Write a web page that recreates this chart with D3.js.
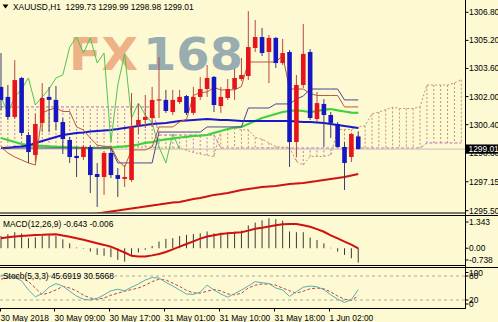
<!DOCTYPE html>
<html><head><meta charset="utf-8">
<script src="https://cdn.jsdelivr.net/npm/d3@7"></script>
<style>html,body{margin:0;padding:0;background:#fcf9d3;} svg{display:block;}</style>
</head><body><svg id="c" width="498" height="322"></svg>
<script>
// ---------- DATA ----------
const title = "XAUUSD,H1  1299.73 1299.99 1298.98 1299.01";
const macdTitle = "MACD(12,26,9) -0.643 -0.006";
const stochTitle = "Stoch(5,3,3) 45.6919 30.5668";
const bidPrice = 1299.01;
const priceTicks = [1306.80,1305.20,1303.60,1302.00,1300.40,1298.80,1297.15,1295.50];
const macdTicks = [1.343, 0.00, -0.738];
const macdTickLabels = ["1.343","0.00","-0.738"];
const stochTicks = [100,80,20,0];
const xLabelBars = [0,8,16,24,32,40,48];
const xLabels = ["30 May 2018","30 May 09:00","30 May 17:00","31 May 01:00","31 May 10:00","31 May 18:00","1 Jun 02:00"];

const opens  = [1302.55,1301.98,1300.84,1303.06,1299.81,1298.67,1300.50,1301.98,1301.81,1300.55,1299.53,1298.62,1298.56,1299.13,1297.59,1297.42,1298.79,1297.53,1297.31,1297.25,1300.38,1300.67,1300.78,1301.78,1301.81,1301.12,1301.69,1302.03,1301.07,1301.98,1302.43,1303.12,1301.46,1301.92,1302.43,1303.00,1303.17,1304.77,1305.39,1304.54,1305.34,1303.91,1304.54,1299.41,1302.66,1304.54,1300.72,1301.58,1300.95,1300.44,1299.13,1298.56,1299.73];
const highs  = [1304.48,1302.66,1304.08,1303.12,1299.98,1301.01,1302.77,1302.55,1302.60,1300.78,1299.70,1299.13,1299.24,1299.24,1298.22,1298.90,1299.07,1297.93,1298.10,1302.20,1301.58,1302.09,1302.55,1304.25,1302.38,1302.38,1302.38,1302.09,1302.55,1303.12,1303.80,1303.17,1302.55,1303.00,1303.57,1304.20,1306.87,1306.36,1305.91,1305.51,1305.39,1305.28,1304.65,1303.23,1306.13,1304.71,1302.26,1301.86,1301.12,1300.55,1299.41,1299.93,1299.99];
const lows   = [1301.24,1300.67,1300.72,1299.76,1298.22,1298.27,1299.98,1299.98,1300.10,1298.73,1298.22,1297.42,1298.39,1296.51,1295.71,1296.40,1297.36,1296.28,1296.85,1297.14,1299.87,1300.21,1300.27,1300.78,1301.07,1300.95,1301.58,1300.95,1300.95,1301.81,1301.98,1301.12,1301.07,1301.81,1301.81,1302.89,1302.94,1304.54,1304.31,1302.77,1303.63,1303.80,1297.99,1298.56,1302.49,1300.67,1300.55,1299.13,1299.64,1299.10,1296.68,1298.27,1298.98];
const closes = [1301.81,1300.84,1302.94,1299.93,1298.84,1300.44,1301.92,1301.81,1300.55,1299.58,1298.56,1298.50,1299.13,1297.53,1297.42,1298.79,1297.53,1297.31,1297.42,1300.27,1300.67,1300.84,1301.81,1301.84,1301.18,1301.81,1301.98,1301.07,1301.98,1302.43,1303.06,1301.52,1301.98,1302.43,1303.06,1303.23,1304.82,1305.39,1304.48,1305.34,1303.91,1304.48,1299.41,1302.66,1304.43,1300.78,1301.63,1300.95,1300.50,1299.13,1298.22,1299.87,1299.01];

const tenkan = [1299.13,1298.79,1298.56,1298.39,1298.22,1298.10,1301.07,1301.24,1301.35,1301.15,1301.15,1300.27,1300.10,1299.64,1299.24,1299.16,1299.16,1298.39,1297.99,1298.96,1298.96,1298.96,1299.13,1300.27,1300.27,1300.27,1300.55,1300.70,1302.06,1302.23,1302.26,1302.52,1302.38,1302.38,1302.38,1302.57,1303.97,1303.97,1303.97,1303.97,1303.97,1304.34,1302.43,1302.43,1302.43,1302.18,1302.06,1302.06,1302.06,1302.06,1301.41,1301.41,1301.41];
const kijun = [1299.07,1299.07,1299.07,1299.07,1299.07,1299.07,1299.07,1299.07,1299.07,1299.07,1299.07,1299.07,1299.07,1299.07,1299.07,1299.07,1299.07,1298.22,1298.22,1298.22,1298.22,1298.22,1298.22,1299.98,1299.98,1299.98,1299.98,1299.98,1299.98,1299.98,1300.27,1300.27,1300.27,1300.27,1300.27,1300.27,1301.35,1301.35,1301.35,1301.35,1301.58,1301.58,1301.58,1301.86,1302.03,1302.43,1302.43,1302.43,1302.43,1302.43,1301.81,1301.81,1301.81];
const senkouA = [1299.13,1299.13,1299.13,1299.13,1299.13,1299.13,1299.13,1299.13,1299.13,1299.13,1299.13,1299.13,1299.13,1299.13,1299.13,1299.13,1299.13,1299.13,1299.13,1299.13,1299.13,1299.13,1299.13,1299.07,1299.07,1299.07,1299.10,1298.93,1298.82,1298.73,1298.65,1298.59,1300.07,1300.15,1300.21,1300.11,1300.11,1299.67,1299.58,1299.36,1299.16,1299.11,1299.11,1298.30,1298.10,1298.59,1298.59,1298.59,1298.67,1300.13,1300.13,1300.13,1300.27,1300.34,1301.02,1301.11,1301.26,1301.39,1301.32,1301.32,1301.32,1301.42,1302.66,1302.66,1302.66,1302.66,1302.77,1302.96];
const senkouB = [1301.41,1301.41,1301.41,1301.41,1301.41,1301.41,1301.41,1301.41,1301.41,1301.41,1301.41,1301.41,1301.41,1301.41,1301.41,1301.41,1301.41,1301.41,1301.41,1301.41,1301.41,1301.41,1301.41,1299.81,1299.81,1299.81,1299.81,1299.81,1299.81,1299.81,1299.81,1299.81,1299.07,1299.07,1299.07,1299.07,1299.07,1299.07,1299.07,1299.07,1299.07,1299.07,1299.07,1299.07,1299.07,1299.07,1299.07,1299.07,1299.07,1299.07,1299.07,1299.07,1299.07,1299.07,1299.07,1299.07,1299.07,1299.07,1299.07,1299.07,1299.07,1299.07,1299.36,1299.36,1299.36,1299.36,1299.36,1299.36];

const maBlue = [1299.07,1299.07,1299.13,1299.16,1299.21,1299.36,1299.47,1299.58,1299.70,1299.81,1299.87,1299.93,1299.95,1300.01,1300.04,1300.07,1300.10,1300.15,1300.21,1300.27,1300.33,1300.38,1300.44,1300.47,1300.50,1300.55,1300.61,1300.64,1300.67,1300.70,1300.72,1300.70,1300.67,1300.67,1300.64,1300.61,1300.61,1300.61,1300.61,1300.61,1300.61,1300.61,1300.61,1300.58,1300.55,1300.55,1300.53,1300.50,1300.44,1300.38,1300.33,1300.27,1300.21];
const maGreen = [1299.64,1299.53,1299.41,1299.30,1299.24,1299.21,1299.19,1299.16,1299.13,1299.13,1299.10,1299.10,1299.07,1299.07,1299.07,1299.07,1299.10,1299.13,1299.16,1299.21,1299.27,1299.36,1299.41,1299.50,1299.56,1299.61,1299.67,1299.70,1299.76,1299.78,1299.81,1299.93,1300.04,1300.15,1300.24,1300.27,1300.44,1300.61,1300.78,1300.89,1301.01,1301.12,1301.18,1301.21,1301.18,1301.12,1301.18,1301.26,1301.29,1301.21,1301.15,1301.09,1301.07];
const maRed = [null,null,null,null,null,null,null,null,null,null,null,null,null,1295.29,1295.34,1295.40,1295.46,1295.51,1295.57,1295.63,1295.68,1295.74,1295.80,1295.85,1295.91,1295.97,1296.00,1296.08,1296.17,1296.22,1296.31,1296.40,1296.45,1296.51,1296.59,1296.68,1296.74,1296.79,1296.85,1296.88,1296.91,1296.97,1297.02,1297.05,1297.08,1297.14,1297.19,1297.25,1297.31,1297.36,1297.42,1297.51,1297.59];

const macdHist = [0.55,0.63,0.72,0.67,0.45,0.49,0.55,0.60,0.55,0.40,0.22,0.03,-0.02,-0.15,-0.30,-0.34,-0.40,-0.52,-0.60,-0.30,-0.19,-0.07,0.10,0.30,0.42,0.45,0.55,0.60,0.64,0.67,0.75,0.67,0.70,0.72,0.75,0.79,1.02,1.15,1.25,1.343,1.30,1.24,0.75,0.72,0.72,0.48,0.37,0.22,0.02,-0.15,-0.30,-0.45,-0.643];
const macdSignal = [0.45,0.49,0.53,0.55,0.57,0.59,0.60,0.62,0.63,0.57,0.52,0.45,0.38,0.30,0.22,0.15,0.07,-0.06,-0.19,-0.34,-0.37,-0.37,-0.32,-0.26,-0.17,-0.05,0.07,0.19,0.31,0.43,0.53,0.58,0.64,0.67,0.69,0.72,0.79,0.87,0.92,0.98,1.03,1.08,1.09,1.09,1.03,0.96,0.86,0.74,0.58,0.44,0.30,0.16,-0.006];

const stochMain = [82,81,76,68,45,28,36,52,61,55,42,30,22,20,24,33,43,47,43,52,60,70,76,75,64,55,45,35,34,40,57,45,35,27,36,45,55,66,63,61,50,45,29,41,52,55,53,46,33,22,14,21,45.69];
const stochSignal = [72,76,80,75,66,50,33,38,45,54,50,43,32,25,22,25,32,37,42,46,50,57,66,72,70,62,54,44,38,37,42,46,43,35,33,37,50,57,60,60,57,50,43,37,42,48,50,48,40,30,22,19,30.57];

// ---------- LAYOUT ----------
const W = 498, H = 322, AX = 465.5;
const BG = "#fcf9d3";
const FONT = "'Liberation Sans', Arial, sans-serif";
const main = {top: 0, bottom: 212.5};
const mPanel = {top: 215.5, bottom: 265.5};
const sPanel = {top: 267.5, bottom: 308.5};

const svg = d3.select("#c");
svg.append("rect").attr("width", W).attr("height", H).attr("fill", BG);

const x = d3.scaleLinear().domain([0, 67]).range([1, 1 + 67 * 6.87]);
const y = d3.scaleLinear().domain([1295.50, 1306.80]).range([210.7, 12.3]);
const ym = d3.scaleLinear().domain([-0.738, 1.343]).range([264.7, 218.3]);
const ys = d3.scaleLinear().domain([0, 100]).range([308, 268]);

const defs = svg.append("defs");
function clip(id, t, b) {
  defs.append("clipPath").attr("id", id).append("rect")
    .attr("x", 0).attr("y", t).attr("width", AX).attr("height", b - t);
}
clip("cm", main.top, main.bottom);
clip("cmacd", mPanel.top + 0.5, mPanel.bottom);
clip("cst", sPanel.top + 0.5, sPanel.bottom);

// ---------- MAIN ----------
const g = svg.append("g").attr("clip-path", "url(#cm)");

// watermark
const wm = g.append("g").attr("font-family", "'DejaVu Sans', sans-serif").attr("font-weight", "bold").attr("font-size", 45);
wm.append("text").attr("x", 69).attr("y", 70).attr("textLength", 69).attr("lengthAdjust", "spacingAndGlyphs")
  .attr("fill", "#eb9f72").attr("fill-opacity", 0.8).text("FX");
wm.append("text").attr("x", 143).attr("y", 70).attr("textLength", 100).attr("lengthAdjust", "spacingAndGlyphs")
  .attr("fill", "#87a0aa").attr("fill-opacity", 0.85).text("168");

// kumo hatch
const BULL = "#c9926c", BEAR = "#c27fba";
const cloudIdx = d3.range(senkouA.length);
g.append("g").selectAll("line").data(cloudIdx).join("line")
  .attr("x1", i => x(i)).attr("x2", i => x(i))
  .attr("y1", i => y(senkouA[i])).attr("y2", i => y(senkouB[i]))
  .attr("stroke", i => senkouA[i] >= senkouB[i] ? BULL : BEAR)
  .attr("stroke-width", 1).attr("stroke-dasharray", "2,2");

const lineP = arr => d3.line().defined(d => d != null).x((d, i) => x(i)).y(d => y(d))(arr);
g.append("path").attr("d", lineP(senkouA)).attr("fill", "none").attr("stroke", BULL).attr("stroke-dasharray", "2,2");
g.append("path").attr("d", lineP(senkouB)).attr("fill", "none").attr("stroke", "#b86cb0").attr("stroke-dasharray", "3,2");

// bid line
g.append("line").attr("x1", 0).attr("x2", AX).attr("y1", y(bidPrice)).attr("y2", y(bidPrice))
  .attr("stroke", "#cbbcc0").attr("stroke-width", 1);

// moving averages
g.append("path").attr("d", lineP(maRed)).attr("fill", "none").attr("stroke", "#cc1414").attr("stroke-width", 2);
g.append("path").attr("d", lineP(maGreen)).attr("fill", "none").attr("stroke", "#3fd23f").attr("stroke-width", 2.2);
g.append("path").attr("d", lineP(maBlue)).attr("fill", "none").attr("stroke", "#1818c8").attr("stroke-width", 2);

// ichimoku lines
const chikou = closes.slice(26);
g.append("path").attr("d", lineP(chikou)).attr("fill", "none").attr("stroke", "#52c452").attr("stroke-width", 1);
g.append("path").attr("d", lineP(kijun)).attr("fill", "none").attr("stroke", "#44449a").attr("stroke-width", 1);
g.append("path").attr("d", lineP(tenkan)).attr("fill", "none").attr("stroke", "#b85a3c").attr("stroke-width", 1);

// candles
const idx = d3.range(opens.length);
const cg = g.append("g");
cg.selectAll("line").data(idx).join("line")
  .attr("x1", i => x(i)).attr("x2", i => x(i))
  .attr("y1", i => y(highs[i])).attr("y2", i => y(lows[i]))
  .attr("stroke", i => closes[i] >= opens[i] ? "#b84848" : "#3c3c70").attr("stroke-width", 1);
cg.selectAll("rect").data(idx).join("rect")
  .attr("x", i => x(i) - 2.3).attr("width", 4.6)
  .attr("y", i => y(Math.max(opens[i], closes[i])))
  .attr("height", i => Math.max(1.2, Math.abs(y(opens[i]) - y(closes[i]))))
  .attr("fill", i => closes[i] >= opens[i] ? "#e8141c" : "#1616c4");

// ---------- MACD ----------
const gm = svg.append("g").attr("clip-path", "url(#cmacd)");
gm.selectAll("line").data(idx).join("line")
  .attr("x1", i => x(i)).attr("x2", i => x(i))
  .attr("y1", ym(0)).attr("y2", i => ym(macdHist[i]))
  .attr("stroke", "#3a3a3a").attr("stroke-width", 1);
gm.append("path").attr("d", d3.line().x((d, i) => x(i)).y(d => ym(d))(macdSignal))
  .attr("fill", "none").attr("stroke", "#d21010").attr("stroke-width", 2);

// ---------- STOCH ----------
const gs = svg.append("g").attr("clip-path", "url(#cst)");
[80, 20].forEach(v => gs.append("line").attr("x1", 0).attr("x2", AX).attr("y1", ys(v)).attr("y2", ys(v))
  .attr("stroke", "#a8a8a0").attr("stroke-dasharray", "3,3"));
gs.append("path").attr("d", d3.line().x((d, i) => x(i)).y(d => ys(d))(stochSignal))
  .attr("fill", "none").attr("stroke", "#c44040").attr("stroke-width", 1).attr("stroke-dasharray", "3,2");
gs.append("path").attr("d", d3.line().x((d, i) => x(i)).y(d => ys(d))(stochMain))
  .attr("fill", "none").attr("stroke", "#5aaeb0").attr("stroke-width", 1);

// ---------- FRAMES ----------
const fr = svg.append("g").attr("stroke", "#000").attr("stroke-width", 1);
fr.append("line").attr("x1", AX).attr("x2", AX).attr("y1", 0).attr("y2", sPanel.bottom + 0.5);
fr.append("line").attr("x1", 0).attr("x2", AX).attr("y1", main.bottom + 0.5).attr("y2", main.bottom + 0.5);
fr.append("line").attr("x1", 0).attr("x2", W).attr("y1", mPanel.top).attr("y2", mPanel.top);
fr.append("line").attr("x1", 0).attr("x2", AX).attr("y1", mPanel.bottom).attr("y2", mPanel.bottom);
fr.append("line").attr("x1", 0).attr("x2", W).attr("y1", sPanel.top).attr("y2", sPanel.top);
fr.append("line").attr("x1", 0).attr("x2", AX).attr("y1", sPanel.bottom).attr("y2", sPanel.bottom);

// ---------- AXES / TEXT ----------
const txt = svg.append("g").attr("font-family", FONT).attr("font-size", 8.4).attr("fill", "#000");

function rightAxis(vals, labels, sc, lo, hi) {
  vals.forEach((v, k) => {
    const yy = Math.max(lo, Math.min(hi, sc(v)));
    svg.append("line").attr("x1", AX).attr("x2", AX + 3).attr("y1", yy).attr("y2", yy).attr("stroke", "#000");
    txt.append("text").attr("x", 469).attr("y", yy).attr("dominant-baseline", "central").text(labels[k]);
  });
}
rightAxis(priceTicks, priceTicks.map(v => v.toFixed(2)), y, 0, 212);
rightAxis(macdTicks, macdTickLabels, ym, mPanel.top + 6.5, mPanel.bottom - 5.5);
rightAxis(stochTicks, stochTicks.map(String), ys, sPanel.top + 5, sPanel.bottom - 4.5);

// bid box
svg.append("rect").attr("x", AX).attr("y", y(bidPrice) - 4.6).attr("width", W - AX).attr("height", 9.2).attr("fill", "#000");
svg.append("text").attr("x", 468.5).attr("y", y(bidPrice)).attr("dominant-baseline", "central")
  .attr("font-family", FONT).attr("font-size", 8.4).attr("fill", "#fff").text(bidPrice.toFixed(2));

// titles
svg.append("path").attr("d", "M2.5,4.5 L8.5,4.5 L5.5,8.5 Z").attr("fill", "#000");
txt.append("text").attr("x", 13).attr("y", 6.8).attr("dominant-baseline", "central").style("white-space", "pre").text(title);
txt.append("text").attr("x", 3).attr("y", 224).attr("dominant-baseline", "central").text(macdTitle);
txt.append("text").attr("x", 3).attr("y", 275.5).attr("dominant-baseline", "central").text(stochTitle);

// x axis
xLabelBars.forEach((b, k) => {
  const xx = Math.max(0.5, Math.round(x(b) - 1.6) + 0.5);
  svg.append("line").attr("x1", xx).attr("x2", xx).attr("y1", sPanel.bottom).attr("y2", sPanel.bottom + 3).attr("stroke", "#000");
  txt.append("text").attr("x", xx).attr("y", 317.5).attr("dominant-baseline", "central").text(xLabels[k]);
});
</script>
</body></html>
